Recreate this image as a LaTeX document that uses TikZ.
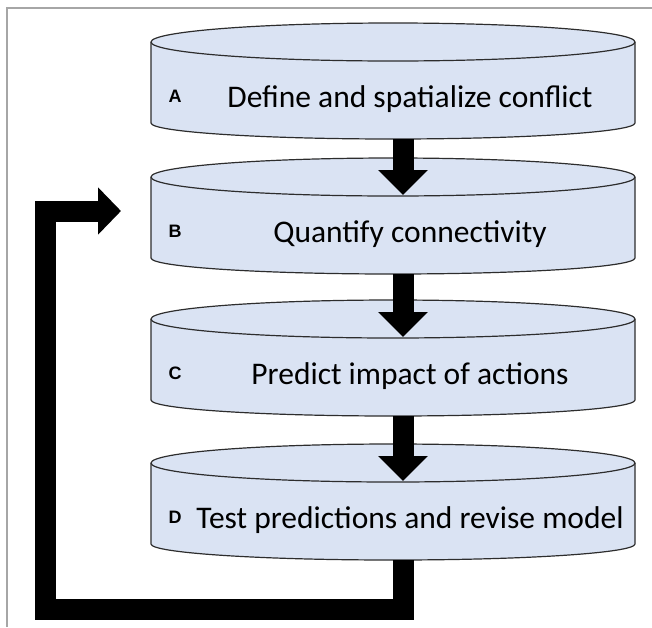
\documentclass[tikz,border=0pt]{standalone}
\usepackage{fontspec}
\setmainfont{Carlito}
\newfontfamily\labfont{Liberation Sans}
\usetikzlibrary{arrows.meta,positioning,calc}
\definecolor{diskblue}{RGB}{218,227,243}
\definecolor{diskline}{RGB}{45,45,45}

\begin{document}
\begin{tikzpicture}[x=1pt, y=-1pt,
    disk/.style={fill=diskblue, draw=diskline, line width=1.2pt},
    steptext/.style={font=\fontsize{31.5}{36}\selectfont, inner sep=0pt},
    steplab/.style={font=\labfont\bfseries\fontsize{18}{21}\selectfont, inner sep=0pt},
    flow/.style={line width=21pt, -{Triangle[width=48pt, length=25pt]}},
    loopback/.style={line width=21pt, -{Triangle[width=46pt, length=23pt]}}]
    \useasboundingbox (0,0) rectangle (652,627);
    % Frame
    \draw[gray!70, line width=1.5pt] (7,627) -- (7,8) -- (652,8);

    % Steps
    \foreach \n/\cy/\lab/\txt in {a/42/A/{Define and spatialize conflict},
                                  b/177/B/{Quantify connectivity},
                                  c/319/C/{Predict impact of actions},
                                  d/463/D/{Test predictions and revise model}} {
        \draw[disk] (151,\cy) -- (151,\cy+81)
            arc[start angle=180, end angle=0, x radius=242, y radius=16]
            -- (635,\cy)
            arc[start angle=0, end angle=-180, x radius=242, y radius=19] -- cycle;
        \draw[diskline, line width=1.2pt] (151,\cy)
            arc[start angle=180, end angle=0, x radius=242, y radius=19];
        \node[steptext] (\n) at (410,\cy+57) {\txt};
        \node[steplab] (\n-lab) at (175,\cy+54) {\lab};
        \coordinate (\n-top) at (403,\cy+18);
        \coordinate (\n-bot) at (403,\cy+97);
    }

    % Arrows
    \draw[flow] (a-bot) -- (b-top);
    \draw[flow] (b-bot) -- (c-top);
    \draw[flow] (c-bot) -- (d-top);

    % Feedback loop
    \coordinate (corner) at (45,609);
    \coordinate (b-in) at (121,211);
    \draw[loopback] (d-bot) |- (corner) |- (b-in);
\end{tikzpicture}
\end{document}
